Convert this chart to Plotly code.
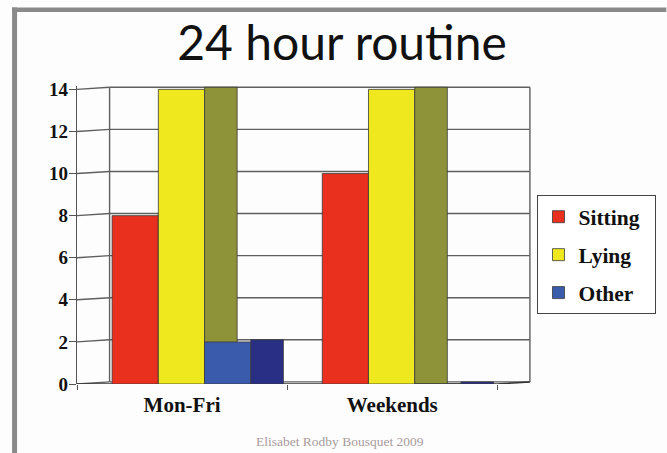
import plotly.graph_objects as go

# ---------------- data ----------------
categories = ["Mon-Fri", "Weekends"]
series_names = ["Sitting", "Lying", "Other"]
sitting = [8, 10]
lying = [14, 14]
other = [2, 0]
y_ticks = [0, 2, 4, 6, 8, 10, 12, 14]
title_text = "24 hour routine"
caption_text = "Elisabet Rodby Bousquet 2009"

# ---------------- style ----------------
front_colors = ["#E9301F", "#F0E81E", "#3A5BAC"]
side_colors = ["#A52216", "#8E9238", "#2A2F86"]
outline = "#3a3a3a"
grid_col = "#5f5f5f"
serif = "Liberation Serif"
legend_pad = "\u00a0\u00a0"   # extra room on the right of the legend box

W, H = 667, 453
BAR_W = 0.22
GROUP_START = -0.333
DEPTH_X = 0.155
DEPTH_Y = 0.1
X_RANGE = [-0.5, 1.5 + DEPTH_X + 0.01]
Y_RANGE = [0, 14 + DEPTH_Y + 0.06]
PX_X = 210.4
PX_Y = 21.07
L = 77
B = H - 384
plot_w = (X_RANGE[1] - X_RANGE[0]) * PX_X
plot_h = (Y_RANGE[1] - Y_RANGE[0]) * PX_Y
R = W - L - plot_w
T = H - B - plot_h


def px_x(px):
    return (px - L) / plot_w


def px_y(py):
    return (H - B - py) / plot_h


fig = go.Figure()
all_vals = [sitting, lying, other]
for i, (name, vals) in enumerate(zip(series_names, all_vals)):
    fig.add_trace(go.Bar(
        x=categories, y=vals, name=name + legend_pad,
        offset=GROUP_START + i * BAR_W, width=BAR_W,
        marker=dict(color=front_colors[i], line=dict(color=outline, width=0.8)),
        hovertemplate="%{x}: %{y}<extra>" + name + "</extra>", legendgroup="g%d" % i,
    ))
    fig.add_trace(go.Bar(
        x=categories, y=[v + DEPTH_Y for v in vals], name=name + " side",
        offset=GROUP_START + (i + 1) * BAR_W, width=DEPTH_X,
        marker=dict(color=side_colors[i], line=dict(color=outline, width=0.8)),
        showlegend=False, hoverinfo="skip", legendgroup="g%d" % i,
    ))

shapes = []
bx0 = -0.5 + DEPTH_X
bx1 = 1.5 + DEPTH_X
for v in y_ticks:
    shapes.append(dict(type="line", xref="x", yref="y", x0=-0.5, y0=v, x1=bx0, y1=v + DEPTH_Y,
                       line=dict(color=grid_col, width=1.4), layer="below"))
    shapes.append(dict(type="line", xref="x", yref="y", x0=bx0, y0=v + DEPTH_Y, x1=bx1, y1=v + DEPTH_Y,
                       line=dict(color=grid_col, width=1.4), layer="below"))
for bx in (bx0, bx1):
    shapes.append(dict(type="line", xref="x", yref="y", x0=bx, y0=DEPTH_Y, x1=bx, y1=y_ticks[-1] + DEPTH_Y,
                       line=dict(color=grid_col, width=1.4), layer="below"))
# floor front edge
shapes.append(dict(type="line", xref="x", yref="y", x0=-0.5, y0=0, x1=1.5, y1=0,
                   line=dict(color="#333333", width=1.5), layer="below"))
shapes.append(dict(type="line", xref="x", yref="y", x0=1.5, y0=0, x1=bx1, y1=DEPTH_Y,
                   line=dict(color="#333333", width=1.5), layer="below"))
# grey frame of the slide
frame_col = "#8a8a8a"
shapes.append(dict(type="rect", xref="paper", yref="paper", x0=px_x(12), x1=px_x(17),
                   y0=px_y(453), y1=px_y(7), fillcolor=frame_col, line=dict(width=0), layer="above"))
shapes.append(dict(type="rect", xref="paper", yref="paper", x0=px_x(12), x1=px_x(667),
                   y0=px_y(11.5), y1=px_y(7), fillcolor=frame_col, line=dict(width=0), layer="above"))

fig.update_layout(
    width=W, height=H,
    margin=dict(l=L, r=R, t=T, b=B, pad=0),
    paper_bgcolor="#fdfdfd", plot_bgcolor="rgba(0,0,0,0)",
    barmode="overlay",
    title=dict(text=title_text, x=342 / W, xanchor="center", y=1 - 43 / H, yanchor="middle",
               xref="container", yref="container",
               font=dict(family="Lato", size=48, color="#111111")),
    shapes=shapes,
    showlegend=True,
    legend=dict(x=px_x(537), y=px_y(195), xanchor="left", yanchor="top",
                bordercolor="#444444", borderwidth=1, bgcolor="#ffffff",
                font=dict(family=serif, size=21.5, color="#111111", weight="bold"),
                tracegroupgap=7, itemwidth=30),
    xaxis=dict(type="category", range=X_RANGE, tickson="boundaries", ticks="outside",
               ticklen=5, tickcolor="#555555", showgrid=False, showline=False, zeroline=False,
               tickfont=dict(family=serif, size=21, color="#111111", weight="bold"),
               ticklabelstandoff=6),
    yaxis=dict(range=Y_RANGE, tickvals=y_ticks, ticks="outside", ticklen=7, tickcolor="#555555",
               showline=True, linecolor="#555555", linewidth=1.3, showgrid=False, zeroline=False,
               tickfont=dict(family=serif, size=19, color="#111111", weight="bold"),
               ticklabelstandoff=-3),
    annotations=[dict(text=caption_text, xref="paper", yref="paper", x=px_x(340), y=px_y(442),
                      xanchor="center", yanchor="middle", showarrow=False,
                      font=dict(family=serif, size=13.5, color="#a89c9c"))],
)

fig.write_html("out.html", config={"displayModeBar": False},
               post_script="document.body.style.margin='0px';document.body.style.overflow='hidden';")
